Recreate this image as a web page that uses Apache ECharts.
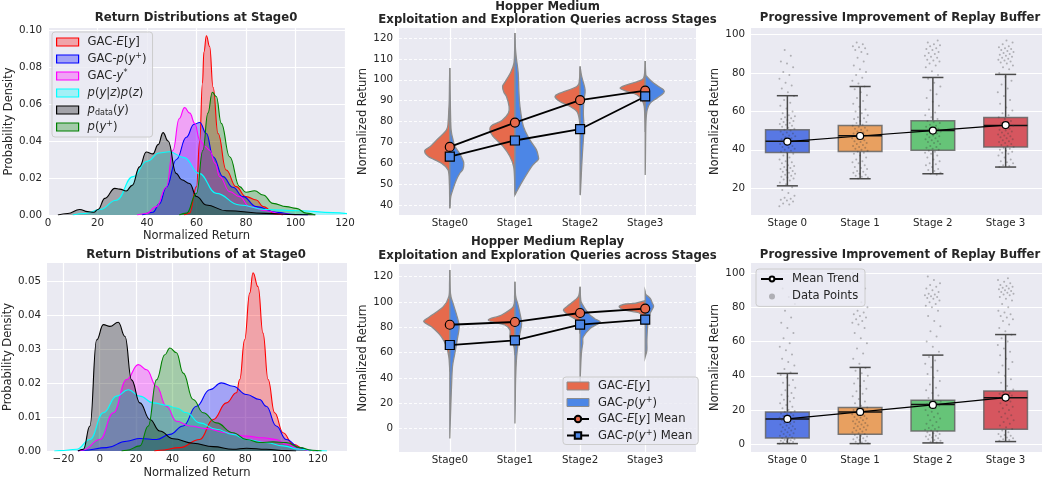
<!DOCTYPE html>
<html><head><meta charset="utf-8">
<script src="https://cdn.jsdelivr.net/npm/echarts@6/dist/echarts.min.js"></script>
<style>html,body{margin:0;padding:0;background:#fff}#c{width:1042px;height:480px}</style>
</head><body><div id="c"></div><script>
const F = 'DejaVu Sans';
const INK = '#262626';

// ---------- Top-left: Return distributions at Stage0 (Hopper Medium) [x, density]
const tlGacEy   = [[55,0],[57.2,0.001],[60,0.0153],[61.3,0.04],[62.4,0.071],[63,0.088],[64,0.0968],[65.3,0.091],[66.7,0.069],[68.7,0.044],[72,0.0243],[76,0.0153],[80,0.0099],[84.2,0.0081],[86.9,0.0045],[92,0.0005],[95,0]];
const tlGacPy   = [[38,0],[42.4,0.0015],[45,0.006],[47.8,0.015],[51.9,0.03],[55.9,0.042],[59,0.049],[61.3,0.05],[64,0.044],[66.7,0.0315],[70.7,0.0207],[74.7,0.015],[78.8,0.0099],[84.2,0.0045],[92.3,0.0014],[100,0.0002],[105,0]];
const tlGacYs   = [[36,0],[39.7,0.0008],[43.8,0.0045],[47.8,0.015],[50.5,0.035],[53,0.052],[55.2,0.058],[57.3,0.055],[59.3,0.0495],[61.3,0.0405],[63.5,0.037],[65.3,0.035],[67.5,0.028],[69.4,0.0207],[73.4,0.0126],[77.4,0.0099],[81.5,0.0045],[88,0.0023],[95,0.0005],[100,0]];
const tlPyz     = [[10,0],[15,0.0008],[21,0.003],[27.6,0.008],[34.3,0.0207],[40,0.029],[45,0.0335],[49,0.0342],[55,0.031],[61,0.0225],[68,0.0117],[77.4,0.0054],[88,0.003],[101.7,0.0023],[115,0.0013],[122,0.0005]];
const tlPdata   = [[4,0],[8,0.0008],[12.8,0.003],[16,0.0018],[18.5,0.0015],[20.2,0.003],[23,0.009],[27,0.0144],[29,0.014],[31.6,0.013],[34,0.016],[37,0.026],[39.7,0.034],[42.4,0.033],[44.5,0.038],[46.5,0.0445],[48.5,0.04],[51.8,0.0225],[54,0.019],[57.2,0.017],[60,0.01],[64,0.0054],[72,0.0023],[88,0.0009],[100,0.0002],[108,0]];
const tlPplus   = [[53,0],[56,0.001],[60,0.0117],[62.6,0.035],[64.6,0.055],[66.4,0.0663],[68,0.064],[70,0.0495],[73.4,0.0315],[77.4,0.0153],[80,0.0123],[83.5,0.0131],[86.9,0.0108],[90.9,0.0063],[96.3,0.0045],[100.3,0.0036],[104.4,0.001],[108,0]];

// ---------- Bottom-left: Return distributions (Hopper Medium Replay)
const blGacEy   = [[30,0],[33,0.0002],[44,0.001],[55,0.0034],[62.4,0.0093],[69.7,0.0142],[75.2,0.0172],[77,0.0211],[79.7,0.0328],[82.5,0.0466],[84.3,0.0526],[87.1,0.0485],[89.8,0.0348],[92.6,0.0211],[96.2,0.0113],[100.8,0.0054],[106.3,0.002],[113.6,0.0003],[118,0]];
const blGacPy   = [[-12,0],[-9,0.0002],[3.8,0.001],[14.8,0.0029],[22.1,0.0037],[31.2,0.0034],[38.6,0.0049],[45.9,0.0074],[53.2,0.0132],[60.5,0.0181],[66.9,0.0201],[73.3,0.0191],[80.7,0.0167],[88,0.0152],[91.6,0.0132],[97.1,0.0074],[102.6,0.0034],[110,0.001],[115,0.0002],[120,0]];
const blGacYs   = [[-12,0],[-9,0.0003],[0.1,0.0034],[7.5,0.0113],[14.8,0.0211],[21.2,0.0255],[25.8,0.024],[31.2,0.0191],[36.7,0.0132],[42.2,0.0088],[49.5,0.0074],[58.7,0.0066],[69.7,0.0054],[80.7,0.0044],[89.8,0.0039],[97.1,0.0034],[102.6,0.002],[110,0.0005],[116,0]];
const blPyz     = [[-25,0],[-21.8,0.0001],[-12.7,0.0005],[-5.4,0.0034],[2,0.0113],[9.3,0.0162],[15.7,0.0181],[22.1,0.0162],[29.4,0.0142],[36.7,0.0135],[42.2,0.0127],[47.7,0.0113],[55,0.0083],[64.2,0.0064],[73.3,0.0049],[80.7,0.0034],[91.6,0.0025],[100.8,0.0015],[110,0.0005],[119,0.0001],[125,0]];
const blPdata   = [[-12,0],[-9,0.0005],[-5.4,0.0074],[-1.7,0.0328],[2,0.0373],[5.6,0.0368],[10.2,0.038],[13.9,0.0338],[17.5,0.021],[22.1,0.0142],[27.6,0.0093],[33,0.0059],[40.4,0.0036],[51.4,0.0023],[62.4,0.0013],[73.3,0.0005],[80.7,0.0008],[91.6,0.0005],[102.6,0.0001],[108,0]];
const blPplus   = [[12,0],[14.8,0.0002],[22.1,0.0015],[26.7,0.0074],[31.2,0.021],[35.8,0.0284],[38.6,0.0304],[42.2,0.029],[45.9,0.023],[51.4,0.0152],[56.9,0.0113],[64.2,0.0083],[73.3,0.0054],[80.7,0.0034],[88,0.0025],[95.3,0.0027],[102.6,0.0025],[110,0.001],[117,0.0002],[122,0]];

// ---------- Violin profiles [value, half-width in category units], per stage
const tmEyProf = [
  [[105.6,0],[100,0.004],[90,0.008],[85.6,0.015],[80,0.025],[76,0.05],[71.2,0.2],[68,0.3],[66,0.385],[63.2,0.33],[60,0.13],[56.8,0.026],[50,0.006],[45,0.003],[38.4,0]],
  [[122.4,0],[115,0.004],[108,0.015],[103.2,0.07],[98.5,0.16],[96.8,0.19],[94,0.17],[92,0.13],[87.2,0.09],[84,0.1],[80.5,0.2],[78,0.36],[76,0.385],[73,0.34],[68,0.18],[63.2,0.077],[58.4,0.02],[52,0.005],[45,0]],
  [[106.4,0],[100,0.01],[96.8,0.05],[93.6,0.31],[92,0.385],[89.6,0.31],[87.2,0.154],[84.8,0.05],[80.8,0.01],[75,0]],
  [[109,0],[103,0.01],[100,0.05],[97.6,0.28],[96,0.385],[94.4,0.28],[92.8,0.13],[90.4,0.05],[87.2,0.015],[80,0.003],[75,0]]
];
const tmPyProf = [
  [[105.6,0],[95,0.004],[85,0.01],[76,0.02],[71.2,0.05],[68,0.08],[64.8,0.15],[61.9,0.195],[60,0.215],[57,0.2],[55.2,0.154],[52,0.1],[48.8,0.062],[44,0.015],[40,0.005],[38.4,0]],
  [[122.4,0],[115,0.008],[109.6,0.025],[103.2,0.05],[95,0.06],[87.2,0.077],[77.6,0.13],[71.2,0.23],[66.4,0.33],[63,0.36],[61.6,0.355],[58.4,0.256],[52,0.128],[47.2,0.04],[44.8,0]],
  [[106.4,0],[101.6,0.025],[95.2,0.077],[90.4,0.06],[84,0.05],[77.6,0.06],[71.2,0.05],[61.6,0.03],[52,0.015],[45.6,0.005],[44.8,0]],
  [[109,0],[103,0.008],[101.6,0.025],[98.4,0.128],[95.2,0.28],[93.6,0.28],[91.2,0.18],[88.8,0.077],[85.6,0.03],[80,0.012],[70,0.006],[60,0.003],[54.4,0]]
];
const bmEyProf = [
  [[125.3,0],[115,0.004],[104.2,0.015],[96.3,0.1],[88.3,0.31],[84.4,0.4],[80.4,0.28],[72.5,0.128],[64.6,0.05],[56.7,0.015],[50,0.005],[45,0]],
  [[116,0],[105,0.005],[96.3,0.026],[89.7,0.205],[85.7,0.41],[81.8,0.154],[77.8,0.077],[72.5,0.077],[68.6,0.05],[64.6,0.015],[58,0]],
  [[112,0],[105,0.02],[101.5,0.077],[96.3,0.205],[93.6,0.256],[89.7,0.18],[85.7,0.05],[80.4,0.015],[75,0]],
  [[101,0],[99,0.15],[98.4,0.3],[96.3,0.4],[93.6,0.31],[91.5,0.1],[88.3,0.026],[85,0]]
];
const bmPyProf = [
  [[125.3,0],[106.8,0.01],[98.9,0.05],[88.3,0.113],[80.4,0.144],[69.9,0.113],[59.3,0.077],[48.8,0.041],[33,0.026],[17.1,0.015],[5,0.007],[-7.9,0]],
  [[116,0],[105,0.01],[98.9,0.041],[91,0.077],[83,0.103],[75.2,0.077],[67.2,0.05],[56.7,0.026],[38.2,0.01],[20,0.005],[4,0]],
  [[112,0],[103,0.008],[98.9,0.026],[91,0.128],[87,0.22],[84.4,0.31],[82,0.25],[79.1,0.154],[72.5,0.05],[67.2,0.041],[59.3,0.02],[43.5,0.005],[35.6,0]],
  [[108.1,0],[106,0.01],[102.8,0.077],[99,0.11],[96.3,0.128],[91,0.077],[83,0.041],[69.9,0.026],[62,0.026],[56.7,0]]
];
const tmMeanEy = [67.8, 79.5, 90.2, 94.8];
const tmMeanPy = [63.2, 70.9, 76.3, 92.0];
const bmMeanEy = [82.0, 84.2, 91.3, 94.8];
const bmMeanPy = [66.0, 69.6, 82.1, 86.0];
const violinStages = ['Stage0','Stage1','Stage2','Stage3'];

// ---------- Replay buffer boxes [whiskerLow, q1, median, q3, whiskerHigh]
const boxStages = ['Stage 0','Stage 1','Stage 2','Stage 3'];
const trBox = [[21.2,38.6,44.5,50.4,68.2],[24.9,39.1,47.3,52.7,73.0],[27.5,39.7,50.1,55.1,77.7],[31.0,41.4,52.7,56.9,79.3]];
const trMean = [44.3, 47.2, 50.0, 52.9];
const brBox = [[0.4,3.7,14.8,18.9,41.4],[0.4,5.9,18.9,21.5,44.9],[0.8,7.8,23.2,25.8,52.1],[1.6,8.8,27.2,31.1,64.1]];
const brMean = [14.8, 18.9, 23.0, 27.3];
const trPts = [
  [10.5,11.5,12,13,13.5,14,14.5,15,16,17.5,19,20.5,22,23,24,24.5,25,25.5,26,26.5,27,27.5,28,28.5,29,29.5,30,30.5,31,31.5,32,33,33.5,34,35,36,
   37,38,38.5,39,39.5,40,40.5,41,41.5,42,42.5,43,43.5,44,44.5,45,45.5,46,46.5,47,47.5,48,48.5,49,49.5,50,50.5,51,51.5,52,52.5,53,53.5,54,54.5,55,55.5,56,56.5,57,57.5,58,
   59,60,61.5,63,64.5,66,68,70,72,73.5,75,77,79,80.5,83,85,86,89,92],
  [25,25.5,26,26.5,27,27.5,28,28.5,29,30,30.5,31,32,33,33.5,34,35,36,37,
   38,38.5,39,39.5,40,40.5,41,41.5,42,42.5,43,43.5,44,44.5,45,45.5,46,46.5,47,47.5,48,48.5,49,49.5,50,50.5,51,51.5,52,52.5,53,54,54.5,55,56,56.5,57,58,
   59,60,61,62.5,64,65.5,67,68.5,70,71.5,73,74.5,76,77.5,79,80.5,82,84,86,88,90,91,92,93,93.5,94,95,96],
  [27,27.5,28,29,29.5,30,31,32,32.5,33,34,35,36,37,
   38,38.5,39,39.5,40,40.5,41,41.5,42,43,43.5,44,44.5,45,45.5,46,46.5,47,47.5,48,48.5,49,49.5,50,50.5,51,51.5,52,52.5,53,54,54.5,55,56,57,58,
   59.5,61,63,65,67,69,71,73,75,77,79,81,83,84,85,86,86.5,87,88,88.5,89,90,90.5,91,92,92.5,93,94,94.5,95,96,97],
  [31,31.5,32,33,33.5,34,35,36,37,
   38,38.5,39,39.5,40,40.5,41,41.5,42,42.5,43,43.5,44,44.5,45,45.5,46,46.5,47,47.5,48,48.5,49,49.5,50,50.5,51,52,52.5,53,54,55,56,57,58,
   59,60.5,62,64,66,68,70,72,74,76,78,80,82,83,84,85,85.5,86,86.5,87,87.5,88,88.5,89,89.5,90,90.5,91,91.5,92,92.5,93,93.5,94,95,96,97]
];
const brPts = [
  [0.3,0.6,1,1.3,1.6,2,2.3,2.6,3,3.3,3.6,4,4.5,5,5.5,6,6.5,7,7.5,8,8.5,9,9.5,10,10.5,11,11.5,12,12.5,13,13.5,14,14.5,15,15.5,16,16.5,17,17.5,18,18.5,19,19.5,
   20,21,22,23,24,25,26,27,28,29,30,31.5,33,34.5,36,37.5,39,40.5,
   42,44,46,48,50,52.5,55,57,59,62,65,68,71,74,78,82,86,91,96],
  [0.3,0.6,1,1.5,2,2.5,3,3.5,4,4.5,5,5.5,6,6.5,7,7.5,8,8.5,9,9.5,10,10.5,11,11.5,12,12.5,13,13.5,14,14.5,15,15.5,16,16.5,17,17.5,18,18.5,19,19.5,20,20.5,21,21.5,
   22.5,24,25,26.5,28,29.5,31,32.5,34,35.5,37,38.5,40,41.5,43,44.5,
   47,50,53,56,59,62,65,68,70,71,72,73,74,75,76,77,78,80,83,87,91,95,100],
  [1,1.5,2,2.5,3,3.5,4,4.5,5,5.5,6,6.5,7,7.5,8,8.5,9,9.5,10,11,12,13,14,15,16,17,18,19,20,21,22,22.5,23,23.5,24,24.5,25,25.5,
   27,28.5,30,31.5,33,35,37,39,41,43,45,47,49,51,
   54,57,60,63,66,69,72,75,78,80,81,82,83,84,85,85.5,86,86.5,87,87.5,88,89,90,91,92,93,94,96,98],
  [2,2.5,3,3.5,4,4.5,5,5.5,6,7,8,9,10,11,12,13,14,15,16,17,18,19,20,21,22,23,24,25,26,27,27.5,28,28.5,29,29.5,30,30.5,
   32,34,36,38,40,42,44,46,48,50,52,54,56,58,60,62,64,
   66,68,70,72,73,74,75,76,77,78,80,82,84,85,86,87,87.5,88,88.5,89,89.5,90,90.5,91,91.5,92,92.5,93,94,95,96,97]
];

// ---------- tick labels
const tlYTicks = [0,0.02,0.04,0.06,0.08,0.1];
const blYTicks = [0,0.01,0.02,0.03,0.04,0.05];
const blXTicks = [-20,0,20,40,60,80,100,120];
const tmYTicks = [40,50,60,70,80,90,100,110,120];
const bmYTicks = [0,20,40,60,80,100,120];
const trYTicks = [20,40,60,80,100];
const brYTicks = [0,20,40,60,80,100];
const catTicks = [0,1,2,3];

// ---------- helpers
const EY='#E66A4C', PY='#4C86E6';
const boxColors = ['#5878E4','#E8A060','#66C478','#D6565F'];
const kdeColors = ['#ff0000','#0000ff','#ff00ff','#00ffff','#000000','#008000'];
const kdeNames = ['GAC-E[y]','GAC-p(y+)','GAC-y*','p(y|z)p(z)','p_data(y)','p(y+)'];

const lbl = {color:INK, fontFamily:F, fontSize:10.3};
const nameSt = {color:INK, fontFamily:F, fontSize:11.5};
const solidGrid = {show:true, lineStyle:{color:'#ffffff', width:1.2}};
const dashGrid = {show:true, lineStyle:{color:'rgba(255,255,255,0.9)', width:1, type:[3,2]}};

function vAxis(gi, min, max, o) {
  const ax = Object.assign({type:'value', gridIndex:gi, min, max,
    axisLine:{show:false}, axisTick:{show:false}, splitLine:solidGrid,
    axisLabel:Object.assign({margin:6}, lbl), nameTextStyle:nameSt}, o);
  if (o.ticks) {
    ax.axisTick = {show:false, customValues:o.ticks};
    ax.axisLabel = Object.assign({}, ax.axisLabel, {customValues:o.ticks});
    delete ax.ticks;
  }
  return ax;
}
const minus = v => String(v).replace('-', '\u2212');

function kde(name, data, color, gi) {
  return {type:'line', name, data, xAxisIndex:gi, yAxisIndex:gi, smooth:0.45, smoothMonotone:'x',
    showSymbol:false, symbol:'none', silent:true, z:2,
    lineStyle:{color, width:1.1}, itemStyle:{color}, areaStyle:{color, opacity:0.3}};
}
function crPath(pts) {
  let d = '';
  for (let k = 0; k < pts.length - 1; k++) {
    const p0 = pts[Math.max(k-1,0)], p1 = pts[k], p2 = pts[k+1], p3 = pts[Math.min(k+2,pts.length-1)];
    d += ` C${p1[0]+(p2[0]-p0[0])/6},${p1[1]+(p2[1]-p0[1])/6} ${p2[0]-(p3[0]-p1[0])/6},${p2[1]-(p3[1]-p1[1])/6} ${p2[0]},${p2[1]}`;
  }
  return d;
}
function violin(name, profiles, side, color, gi, means) {
  return {type:'custom', name, xAxisIndex:gi, yAxisIndex:gi, data:means.map((m,i)=>[i,m]),
    encode:{x:0,y:1}, silent:true, z:2, itemStyle:{color},
    renderItem(params, api) {
      const i = api.value(0), prof = profiles[params.dataIndex];
      const pts = prof.map(([v,w]) => api.coord([i + side*w, v]));
      const top = api.coord([i, prof[0][0]]), bot = api.coord([i, prof[prof.length-1][0]]);
      const d = `M${top[0]},${top[1]} L${pts[0][0]},${pts[0][1]}` + crPath(pts) + ` L${bot[0]},${bot[1]} Z`;
      return {type:'path', shape:{pathData:d}, style:{fill:color, stroke:'#8c8c8c', lineWidth:1.3}};
    }};
}
function meanLine(name, means, gi, sym, fill, size) {
  return {type:'line', name, data:means.map((m,i)=>[i,m]), xAxisIndex:gi, yAxisIndex:gi, symbol:sym, symbolSize:size,
    showSymbol:true, silent:true, z:6, lineStyle:{color:'#000', width:1.8},
    itemStyle:{color:fill, borderColor:'#000', borderWidth:1.2}};
}
function boxes(stats, gi) {
  return {type:'custom', xAxisIndex:gi, yAxisIndex:gi, data:stats.map((s,i)=>[i].concat(s)),
    encode:{x:0, y:[1,2,3,4,5]}, silent:true, z:2,
    renderItem(params, api) {
      const i = api.value(0), lo = api.value(1), q1 = api.value(2), md = api.value(3), q3 = api.value(4), hi = api.value(5);
      const c = (x,y) => api.coord([x,y]);
      const ws = {stroke:'#4a4a4a', lineWidth:1.5};
      const L = (a,b,st) => ({type:'line', shape:{x1:a[0],y1:a[1],x2:b[0],y2:b[1]}, style:st});
      const a = c(i-0.3,q3), b = c(i+0.3,q1);
      return {type:'group', children:[
        L(c(i,lo), c(i,q1), ws), L(c(i,q3), c(i,hi), ws),
        L(c(i-0.145,lo), c(i+0.145,lo), ws), L(c(i-0.145,hi), c(i+0.145,hi), ws),
        {type:'rect', shape:{x:a[0], y:a[1], width:b[0]-a[0], height:b[1]-a[1]},
          style:{fill:boxColors[i], stroke:'rgba(100,100,100,0.85)', lineWidth:1.5}},
        L(c(i-0.3,md), c(i+0.3,md), {stroke:'#111', lineWidth:1.5})
      ]};
    }};
}
function strip(name, lists, gi) {
  const data = [];
  lists.forEach((vals, i) => vals.forEach((v, k) => data.push([i + (((k*0.6180339887 + i*0.37) % 1) - 0.5)*0.22, v])));
  return {type:'scatter', name, data, xAxisIndex:gi, yAxisIndex:gi, symbolSize:2, silent:true, z:3,
    itemStyle:{color:'rgba(60,60,60,0.42)'}};
}

// legend text (mathtext-like)
const LF = 11.6;
const rich = {
  n:{fontFamily:F, fontSize:LF, color:INK, lineHeight:14},
  i:{fontFamily:F, fontSize:LF, color:INK, fontStyle:'italic', lineHeight:14},
  sp:{fontFamily:F, fontSize:8, color:INK, lineHeight:14, verticalAlign:'top'},
  sb:{fontFamily:F, fontSize:8, color:INK, fontStyle:'normal', lineHeight:14, verticalAlign:'bottom'}
};
const legendText = {
  'GAC-E[y]':'{n|GAC-}{i|E}{n|[}{i|y}{n|]}',
  'GAC-p(y+)':'{n|GAC-}{i|p}{n|(}{i|y}{sp|+}{n|)}',
  'GAC-y*':'{n|GAC-}{i|y}{sp|*}',
  'p(y|z)p(z)':'{i|p}{n|(}{i|y}{n||}{i|z}{n|)}{i|p}{n|(}{i|z}{n|)}',
  'p_data(y)':'{i|p}{sb|data}{n|(}{i|y}{n|)}',
  'p(y+)':'{i|p}{n|(}{i|y}{sp|+}{n|)}',
  'vEy':'{n|GAC-}{i|E}{n|[}{i|y}{n|]}',
  'vPy':'{n|GAC-}{i|p}{n|(}{i|y}{sp|+}{n|)}',
  'mEy':'{n|GAC-}{i|E}{n|[}{i|y}{n|] Mean}',
  'mPy':'{n|GAC-}{i|p}{n|(}{i|y}{sp|+}{n|) Mean}',
  'Mean Trend':'{n|Mean Trend}',
  'Data Points':'{n|Data Points}'
};
const legBase = {orient:'vertical', selectedMode:false, itemWidth:22, itemHeight:8, itemGap:3,
  backgroundColor:'rgba(234,234,242,0.8)', borderColor:'#cccccc', borderWidth:1, borderRadius:3,
  formatter:n => legendText[n] || n, textStyle:{rich, padding:[0,0,0,4], lineHeight:14}};

const titleSt = {fontFamily:F, fontSize:11.7, fontWeight:'bold', color:INK, lineHeight:13.5};
const T = (text, left, top) => ({text, left, top, textAlign:'center', padding:0, textStyle:titleSt});

const option = {
  animation:false,
  backgroundColor:'#ffffff',
  title:[
    T('Return Distributions at Stage0', 196, 11.5),
    T('Hopper Medium\nExploitation and Exploration Queries across Stages', 547.5, 0),
    T('Progressive Improvement of Replay Buffer', 900, 11.5),
    T('Return Distributions of at Stage0', 196, 248.5),
    T('Hopper Medium Replay\nExploitation and Exploration Queries across Stages', 547.5, 235.5),
    T('Progressive Improvement of Replay Buffer', 900, 248.5)
  ],
  grid:[
    {left:48, top:28, width:297, height:187},
    {left:47, top:263, width:300, height:189},
    {left:399, top:28, width:297, height:187},
    {left:399, top:264, width:297, height:188},
    {left:751, top:28, width:299, height:187},
    {left:751, top:263, width:299, height:189}
  ].map(g => Object.assign({show:true, backgroundColor:'#EAEAF2', borderWidth:0, containLabel:false}, g)),
  xAxis:[
    vAxis(0, 0, 120, {interval:20, name:'Normalized Return', nameLocation:'middle', nameGap:15, axisLabel:Object.assign({margin:3}, lbl)}),
    vAxis(1, -29, 136, {ticks:blXTicks, name:'Normalized Return', nameLocation:'middle', nameGap:16, axisLabel:Object.assign({margin:3, formatter:minus}, lbl)}),
    vAxis(2, -0.78, 3.78, {ticks:catTicks, axisLabel:Object.assign({margin:3, formatter:v => violinStages[v]}, lbl)}),
    vAxis(3, -0.78, 3.78, {ticks:catTicks, axisLabel:Object.assign({margin:3, formatter:v => violinStages[v]}, lbl)}),
    vAxis(4, -0.5, 3.5, {ticks:catTicks, splitLine:{show:false}, axisLabel:Object.assign({margin:3, formatter:v => boxStages[v]}, lbl)}),
    vAxis(5, -0.5, 3.5, {ticks:catTicks, splitLine:{show:false}, axisLabel:Object.assign({margin:3, formatter:v => boxStages[v]}, lbl)})
  ],
  yAxis:[
    vAxis(0, 0, 0.101, {ticks:tlYTicks, name:'Probability Density', nameLocation:'middle', nameGap:30,
      axisLabel:Object.assign({margin:6, formatter:v => v.toFixed(2)}, lbl)}),
    vAxis(1, 0, 0.0555, {ticks:blYTicks, name:'Probability Density', nameLocation:'middle', nameGap:29,
      axisLabel:Object.assign({margin:6, formatter:v => v.toFixed(2)}, lbl)}),
    vAxis(2, 35.2, 124.8, {ticks:tmYTicks, splitLine:dashGrid, name:'Normalized Return', nameLocation:'middle', nameGap:26}),
    vAxis(3, -18.5, 130, {ticks:bmYTicks, splitLine:dashGrid, name:'Normalized Return', nameLocation:'middle', nameGap:26}),
    vAxis(4, 6, 103.5, {ticks:trYTicks, name:'Normalized Return', nameLocation:'middle', nameGap:26}),
    vAxis(5, -4.5, 105.9, {ticks:brYTicks, name:'Normalized Return', nameLocation:'middle', nameGap:26})
  ],
  legend:[
    Object.assign({}, legBase, {left:52, top:32, padding:[3,6,3,4],
      data:kdeNames.map((n,k) => ({name:n, icon:'rect',
        itemStyle:{color:echarts.color.modifyAlpha(kdeColors[k],0.3), borderColor:kdeColors[k], borderWidth:1.2}}))}),
    Object.assign({}, legBase, {left:563, top:377, padding:[2,6,2,3], itemGap:2.5,
      data:[{name:'vEy', icon:'rect', itemStyle:{color:EY, borderColor:'#8c8c8c', borderWidth:1}},
            {name:'vPy', icon:'rect', itemStyle:{color:PY, borderColor:'#8c8c8c', borderWidth:1}},
            {name:'mEy'}, {name:'mPy'}]}),
    Object.assign({}, legBase, {left:756, top:269, padding:[3,6,3,4], itemHeight:6, itemGap:3.4,
      data:[{name:'Mean Trend'}, {name:'Data Points'}]})
  ],
  series:[
    kde(kdeNames[0], tlGacEy, kdeColors[0], 0), kde(kdeNames[1], tlGacPy, kdeColors[1], 0),
    kde(kdeNames[2], tlGacYs, kdeColors[2], 0), kde(kdeNames[3], tlPyz, kdeColors[3], 0),
    kde(kdeNames[4], tlPdata, kdeColors[4], 0), kde(kdeNames[5], tlPplus, kdeColors[5], 0),
    kde(kdeNames[0], blGacEy, kdeColors[0], 1), kde(kdeNames[1], blGacPy, kdeColors[1], 1),
    kde(kdeNames[2], blGacYs, kdeColors[2], 1), kde(kdeNames[3], blPyz, kdeColors[3], 1),
    kde(kdeNames[4], blPdata, kdeColors[4], 1), kde(kdeNames[5], blPplus, kdeColors[5], 1),
    violin('vEy', tmEyProf, -1, EY, 2, tmMeanEy), violin('vPy', tmPyProf, 1, PY, 2, tmMeanPy),
    meanLine('mEy', tmMeanEy, 2, 'circle', EY, 9), meanLine('mPy', tmMeanPy, 2, 'rect', PY, 9),
    violin('vEy', bmEyProf, -1, EY, 3, bmMeanEy), violin('vPy', bmPyProf, 1, PY, 3, bmMeanPy),
    meanLine('mEy', bmMeanEy, 3, 'circle', EY, 9), meanLine('mPy', bmMeanPy, 3, 'rect', PY, 9),
    boxes(trBox, 4), strip('Data Points', trPts, 4),
    Object.assign(meanLine('Mean Trend', trMean, 4, 'circle', '#ffffff', 7), {lineStyle:{color:'#000', width:1.2}}),
    boxes(brBox, 5), strip('Data Points', brPts, 5),
    Object.assign(meanLine('Mean Trend', brMean, 5, 'circle', '#ffffff', 7), {lineStyle:{color:'#000', width:1.2}})
  ]
};
const chart = echarts.init(document.getElementById('c'), null, {renderer:'canvas'});
chart.setOption(option);
</script></body></html>
